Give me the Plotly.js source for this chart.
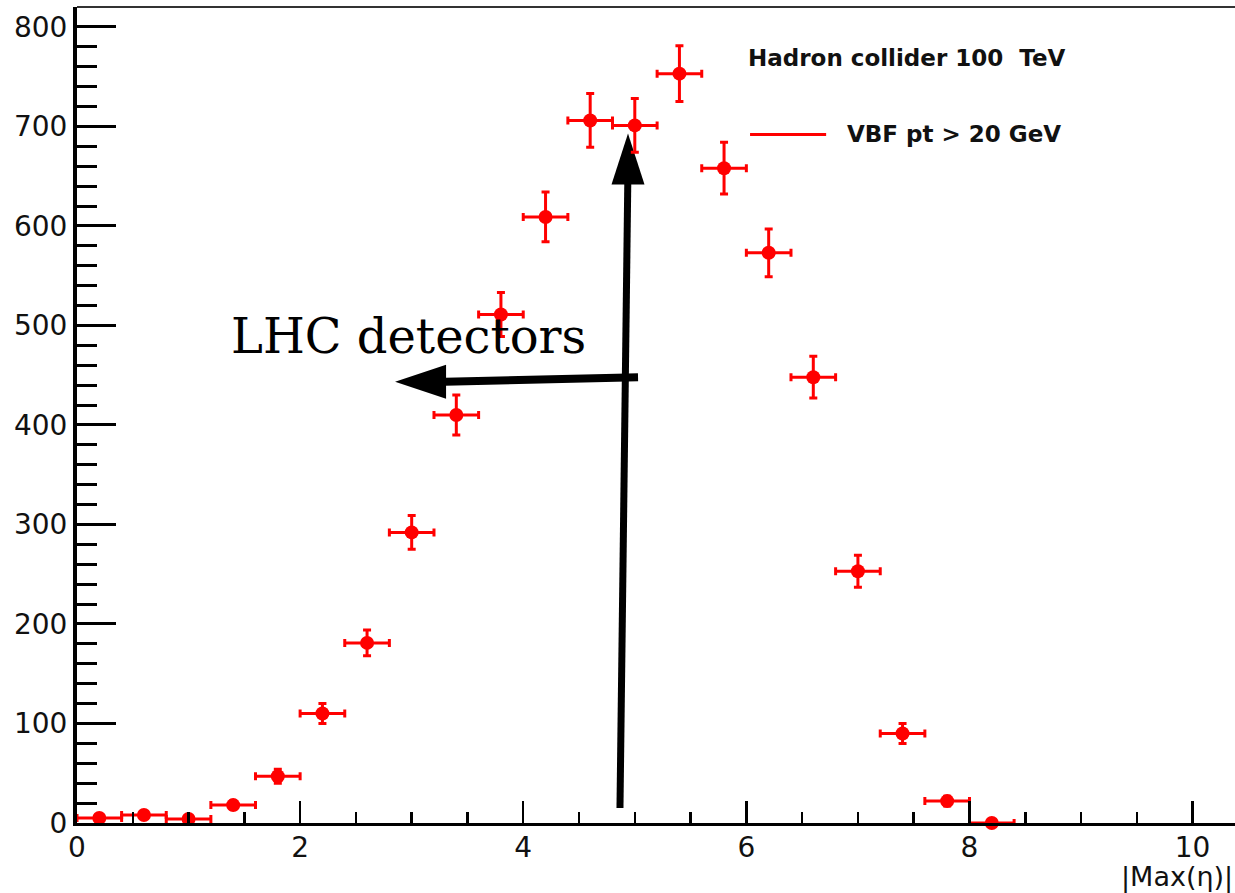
<!DOCTYPE html>
<html>
<head>
<meta charset="utf-8">
<script src="https://cdn.plot.ly/plotly-3.0.1.min.js"></script>
<style>
  html, body { margin: 0; padding: 0; background: #ffffff; }
  #chart { width: 1235px; height: 893px; }
</style>
</head>
<body>
<div id="chart"></div>
<script>
// |Max(eta)| bin centres (bin width 0.4)
const etaCenters = [0.2, 0.6, 1.0, 1.4, 1.8, 2.2, 2.6, 3.0, 3.4, 3.8, 4.2, 4.6, 5.0, 5.4, 5.8, 6.2, 6.6, 7.0, 7.4, 7.8, 8.2];
// entries per bin
const counts = [5, 8, 4, 18, 47, 110, 181, 292, 410, 511, 609, 706, 701, 753, 658, 573, 448, 253, 90, 22, 0];
// vertical error bars
const countErrors = [2, 3, 2, 4, 7, 10, 13, 17, 20, 22, 25, 27, 27, 28, 26, 24, 21, 16, 10, 5, 0];
// horizontal error bars (half bin width)
const binHalfWidths = [0.2, 0.2, 0.2, 0.2, 0.2, 0.2, 0.2, 0.2, 0.2, 0.2, 0.2, 0.2, 0.2, 0.2, 0.2, 0.2, 0.2, 0.2, 0.2, 0.2, 0.2];

const legendHeader = 'Hadron collider 100\u00a0\u00a0TeV';
const seriesName = 'VBF pt > 20 GeV';
const xTitle = '|Max(\u03b7)|';
const noteText = 'LHC detectors';

const RED = '#ff0000';

const trace = {
  type: 'scatter',
  mode: 'markers',
  name: seriesName,
  x: etaCenters,
  y: counts,
  marker: { color: RED, size: 14, line: { width: 0 } },
  error_y: { type: 'data', array: countErrors, visible: true, color: RED, thickness: 3, width: 4 },
  error_x: { type: 'data', array: binHalfWidths, visible: true, color: RED, thickness: 3, width: 4 },
  showlegend: false,
  cliponaxis: false
};

const layout = {
  width: 1235,
  height: 893,
  margin: { l: 77, r: 0, t: 7, b: 70 },
  paper_bgcolor: '#ffffff',
  plot_bgcolor: '#ffffff',
  showlegend: false,
  xaxis: {
    range: [0, 10.38],
    showgrid: false,
    zeroline: false,
    showline: true,
    linecolor: '#000000',
    linewidth: 3,
    ticks: 'inside',
    ticklen: 22,
    tickwidth: 2.5,
    tickcolor: '#000000',
    tick0: 0,
    dtick: 2,
    ticklabelstandoff: -3,
    minor: { ticks: 'inside', dtick: 0.5, tick0: 0, ticklen: 11, tickwidth: 2.5, tickcolor: '#000000', showgrid: false },
    tickfont: { family: 'DejaVu Sans, Arial, sans-serif', size: 28, color: '#111111' },
    fixedrange: true
  },
  yaxis: {
    range: [0, 820],
    showgrid: false,
    zeroline: false,
    showline: true,
    linecolor: '#000000',
    linewidth: 4,
    ticks: 'inside',
    ticklen: 39,
    tickwidth: 3,
    tickcolor: '#000000',
    tick0: 0,
    dtick: 100,
    minor: { ticks: 'inside', dtick: 20, tick0: 0, ticklen: 20, tickwidth: 3, tickcolor: '#000000', showgrid: false },
    tickfont: { family: 'DejaVu Sans, Arial, sans-serif', size: 28, color: '#111111' },
    fixedrange: true
  },
  shapes: [
    // top frame line
    { type: 'line', xref: 'paper', yref: 'paper', x0: 0, x1: 1, y0: 1, y1: 1,
      line: { color: '#333333', width: 2 }, layer: 'above' },
    // legend line sample
    { type: 'line', xref: 'x', yref: 'y', x0: 6.033, x1: 6.715, y0: 692, y1: 692,
      line: { color: RED, width: 3 }, layer: 'below' },
    // vertical arrow shaft
    { type: 'line', xref: 'x', yref: 'y', x0: 4.867, y0: 15, x1: 4.937, y1: 643,
      line: { color: '#000000', width: 7 }, layer: 'below' },
    // vertical arrow head
    { type: 'path', xref: 'x', yref: 'y', xsizemode: 'pixel', ysizemode: 'pixel',
      xanchor: 4.939, yanchor: 693,
      path: 'M0,0 L-16.5,-51 L16.5,-51 Z',
      fillcolor: '#000000', line: { width: 0 }, layer: 'below' },
    // horizontal arrow shaft
    { type: 'line', xref: 'x', yref: 'y', x0: 5.029, y0: 448, x1: 3.30, y1: 443.5,
      line: { color: '#000000', width: 8 }, layer: 'below' },
    // horizontal arrow head
    { type: 'path', xref: 'x', yref: 'y', xsizemode: 'pixel', ysizemode: 'pixel',
      xanchor: 2.851, yanchor: 443.5,
      path: 'M0,0 L51,17 L51,-17 Z',
      fillcolor: '#000000', line: { width: 0 }, layer: 'below' }
  ],
  annotations: [
    { text: legendHeader, xref: 'x', yref: 'y', x: 6.0, y: 769, xanchor: 'left', yanchor: 'middle',
      showarrow: false, font: { family: 'DejaVu Sans, Arial, sans-serif', size: 23, color: '#111111', weight: 'bold' } },
    { text: seriesName, xref: 'x', yref: 'y', x: 6.88, y: 692, xanchor: 'left', yanchor: 'middle',
      showarrow: false, font: { family: 'DejaVu Sans, Arial, sans-serif', size: 23, color: '#111111', weight: 'bold' } },
    { text: noteText, xref: 'x', yref: 'y', x: 1.36, y: 489, xanchor: 'left', yanchor: 'middle',
      showarrow: false, font: { family: 'DejaVu Serif, serif', size: 48, color: '#000000' } },
    { text: xTitle, xref: 'paper', yref: 'paper', x: 1, y: -0.066, xanchor: 'right', yanchor: 'middle',
      showarrow: false, font: { family: 'DejaVu Sans, Arial, sans-serif', size: 27, color: '#111111' } }
  ]
};

Plotly.newPlot('chart', [trace], layout, { staticPlot: true, displayModeBar: false });
</script>
</body>
</html>
